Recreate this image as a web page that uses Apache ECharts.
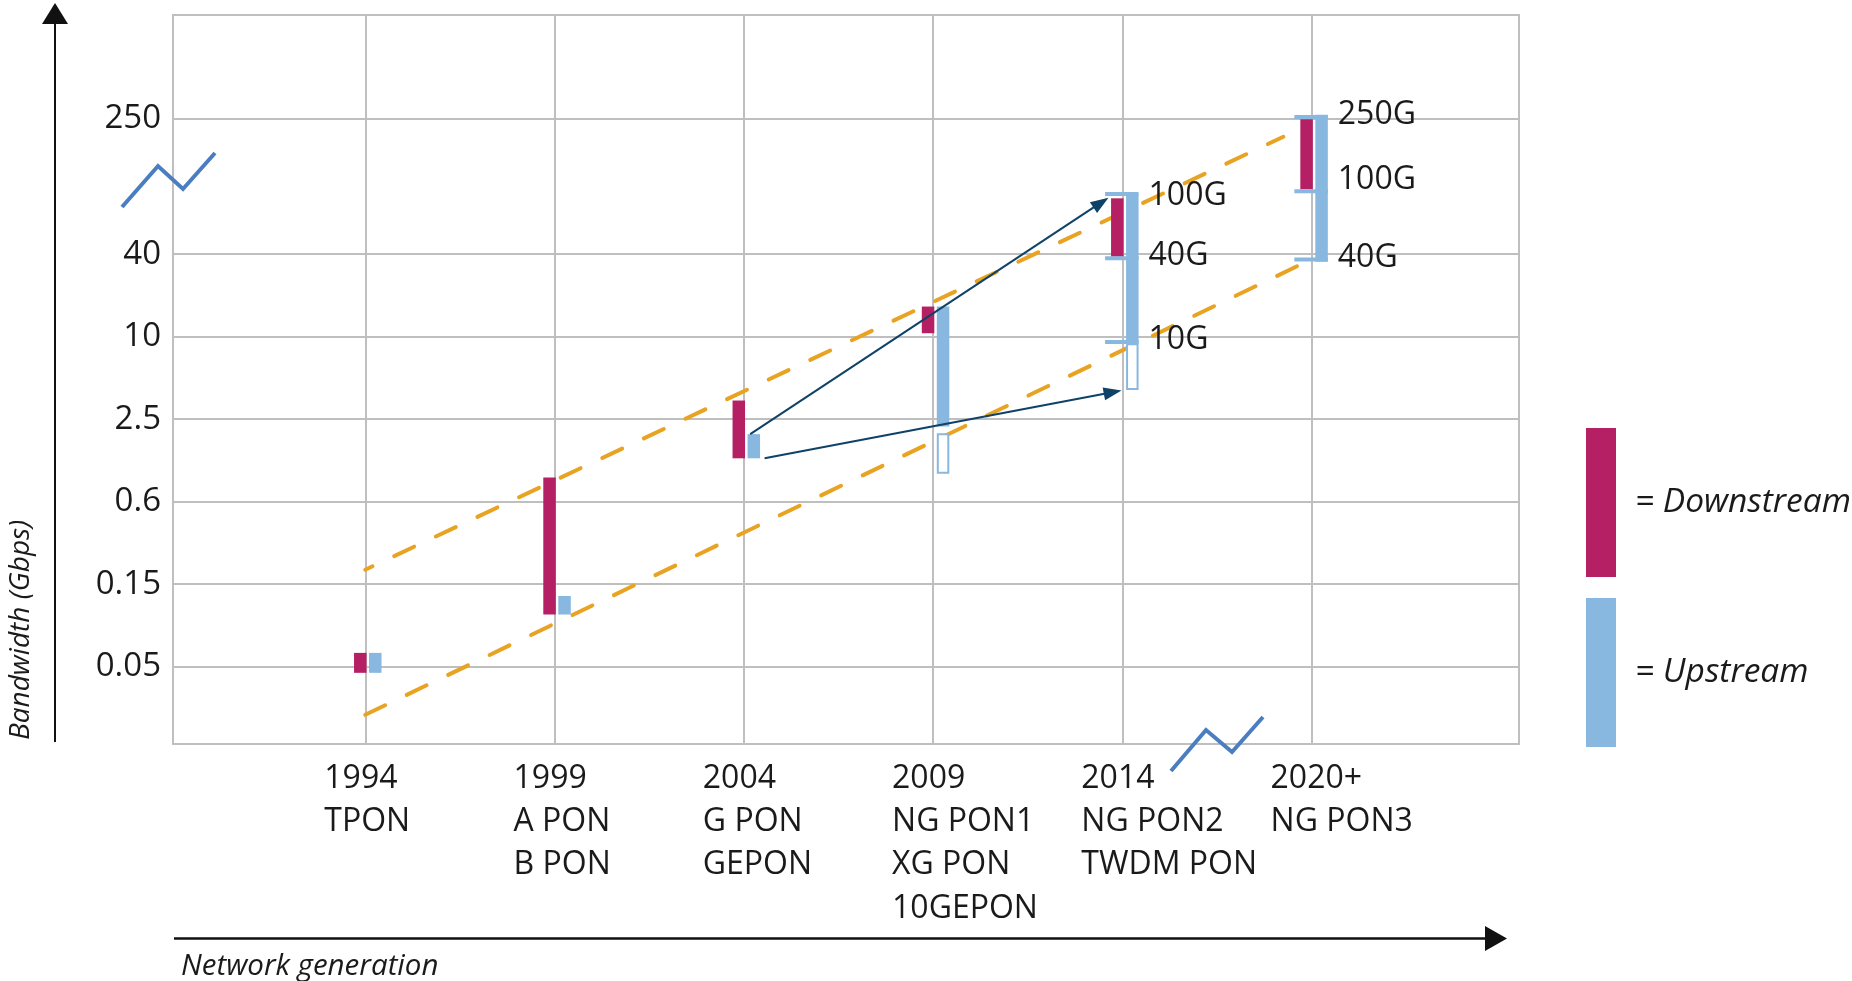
<!DOCTYPE html>
<html>
<head>
<meta charset="utf-8">
<script src="https://cdn.jsdelivr.net/npm/echarts@6/dist/echarts.min.js"></script>
<style>html,body{margin:0;padding:0;background:#fff}#c{width:1852px;height:981px}</style>
</head>
<body>
<div id="c"></div>
<script>
// ---------------- data ----------------
const categories = ['1994\nTPON', '1999\nA PON\nB PON', '2004\nG PON\nGEPON', '2009\nNG PON1\nXG PON\n10GEPON', '2014\nNG PON2\nTWDM PON', '2020+\nNG PON3'];
const yTickValues = [0.05, 0.15, 0.6, 2.5, 10, 40, 250];
const yTickLabels = ['0.05', '0.15', '0.6', '2.5', '10', '40', '250'];
// Gbps ranges
const downLow  = [0.046, 0.10, 1.27, 10.6, 38.4, 96];
const downHigh = [0.060, 0.91, 3.42, 16.6, 85, 247];
const upLow    = [0.046, 0.10, 1.27, 2.2, 8.96, 35.3];
const upHigh   = [0.060, 0.128, 1.93, 16.6, 89.8, 262];
// optional (outlined) upstream ranges
const upOptionCats = [3, 4];
const upOptionLow  = [0.97, 4.09];
const upOptionHigh = [1.96, 8.96];
// bracket caps with rate labels
const capCats        = [4, 4, 4, 5, 5, 5];
const capValues      = [90, 37.4, 9.16, 254.5, 93.5, 36.6];
const capLabels      = ['100G', '40G', '10G', '250G', '100G', '40G'];
const capLabelValues = [88, 38.8, 9.5, 262, 109, 37.4];
// dashed trend envelope (category position, Gbps)
const trendUpper = [[0, 0.191], [4.851, 195]];
const trendLower = [[0, 0.0263], [4.957, 34.4]];
// evolution arrows: [fromCat, fromGbps, toCat, toGbps]
const evolutionArrows = [[2.034, 1.93, 3.927, 85.8], [2.11, 1.27, 3.996, 4.04]];

// ---------------- layout / style ----------------
const FONT = '"Open Sans", "Noto Sans", sans-serif';
const MAGENTA = '#B51F64';
const BLUE = '#88B8E0';
const ORANGE = '#E9A323';
const NAVY = '#0E4267';
const ZIG = '#4A7EC0';
const GRIDC = '#BFBFBF';
const TEXTC = '#1a1a1a';
const yTickSlots = [0, 1, 2, 3, 4, 5, 6.648]; // schematic axis with break between 40 and 250
const BAR_W = 12.5, DOWN_OFF = -5, UP_OFF = 10;
const GRID = {left: 173, top: 15, right: 333, bottom: 237};
const X_MIN = -1.016, X_MAX = 6.096, Y_MIN = -0.939, Y_MAX = 7.901;
const pxPerCat = (1852 - GRID.left - GRID.right) / (X_MAX - X_MIN);
const labelShift = 41 / pxPerCat;

function toLevel(v) {
  const t = yTickValues, s = yTickSlots;
  let i = 0;
  if (v <= t[0]) i = 0;
  else if (v >= t[t.length - 1]) i = t.length - 2;
  else { while (v > t[i + 1]) i++; }
  return s[i] + (s[i + 1] - s[i]) * Math.log(v / t[i]) / Math.log(t[i + 1] / t[i]);
}

const downData = categories.map((c, i) => [i, toLevel(downLow[i]), toLevel(downHigh[i])]);
const upData = categories.map((c, i) => [i, toLevel(upLow[i]), toLevel(upHigh[i])]);
const upOptData = upOptionCats.map((c, k) => [c, toLevel(upOptionLow[k]), toLevel(upOptionHigh[k])]);
const capData = capCats.map((c, k) => [c, toLevel(capValues[k])]);
const capLabelData = capCats.map((c, k) => [c, toLevel(capLabelValues[k]), k]);
const arrowData = evolutionArrows.map(a => [a[0], toLevel(a[1]), a[2], toLevel(a[3])]);

function rangeBar(offset, hollow, color) {
  return function (params, api) {
    const x = api.value(0), lo = api.value(1), hi = api.value(2);
    const top = api.coord([x, hi]), bot = api.coord([x, lo]);
    const cx = top[0] + offset;
    if (hollow) {
      return {type: 'rect', shape: {x: cx - (BAR_W - 2) / 2, y: top[1] + 1, width: BAR_W - 2, height: bot[1] - top[1] - 2},
        style: {fill: '#fff', stroke: color, lineWidth: 2}};
    }
    return {type: 'rect', shape: {x: cx - BAR_W / 2, y: top[1], width: BAR_W, height: bot[1] - top[1]}, style: {fill: color}};
  };
}

const chart = echarts.init(document.getElementById('c'));
chart.setOption({
  animation: false,
  backgroundColor: '#fff',
  grid: {left: GRID.left, top: GRID.top, right: GRID.right, bottom: GRID.bottom, show: true, borderColor: GRIDC, borderWidth: 2},
  xAxis: {
    type: 'value', min: X_MIN, max: X_MAX,
    axisLine: {show: false},
    axisTick: {show: false, customValues: categories.map((c, i) => i)},
    splitLine: {show: true, lineStyle: {color: GRIDC, width: 2}},
    axisLabel: {
      customValues: categories.map((c, i) => i - labelShift),
      formatter: (v) => categories[Math.round(v + labelShift)],
      align: 'left', verticalAlign: 'top', margin: 13,
      fontFamily: FONT, fontSize: 32, lineHeight: 43.3, color: TEXTC
    }
  },
  yAxis: {
    type: 'value', min: Y_MIN, max: Y_MAX,
    axisLine: {show: false},
    axisTick: {show: false, customValues: yTickValues.map(toLevel)},
    splitLine: {show: true, lineStyle: {color: GRIDC, width: 2}},
    axisLabel: {
      customValues: yTickValues.map(toLevel),
      formatter: (v) => { const i = yTickValues.findIndex(t => Math.abs(toLevel(t) - v) < 1e-6); return i >= 0 ? yTickLabels[i] : ''; },
      margin: 12, fontFamily: FONT, fontSize: 33, color: TEXTC, padding: [4, 0, 0, 0]
    }
  },
  legend: {
    orient: 'vertical', left: 1586, top: 428, padding: 0, itemWidth: 30, itemHeight: 149, itemGap: 21,
    icon: 'rect', selectedMode: false, data: ['Downstream', 'Upstream'],
    formatter: (n) => '= ' + n,
    textStyle: {fontFamily: FONT, fontStyle: 'italic', fontSize: 33.5, color: TEXTC, padding: [0, 0, 0, 14]}
  },
  series: [
    {type: 'line', name: 'trend-upper', data: trendUpper.map(p => [p[0], toLevel(p[1])]), symbol: 'none', silent: true, z: 1,
      lineStyle: {color: ORANGE, width: 4, type: [22, 24], dashOffset: 14, cap: 'round'}},
    {type: 'line', name: 'trend-lower', data: trendLower.map(p => [p[0], toLevel(p[1])]), symbol: 'none', silent: true, z: 1,
      lineStyle: {color: ORANGE, width: 4, type: [22, 24], dashOffset: 0, cap: 'round'}},
    {type: 'custom', name: 'Downstream', data: downData, renderItem: rangeBar(DOWN_OFF, false, MAGENTA), itemStyle: {color: MAGENTA}, z: 3,
      encode: {x: 0, y: [1, 2]}},
    {type: 'custom', name: 'Upstream', data: upData, renderItem: rangeBar(UP_OFF, false, BLUE), itemStyle: {color: BLUE}, z: 3,
      encode: {x: 0, y: [1, 2]}},
    {type: 'custom', name: 'Upstream option', data: upOptData, renderItem: rangeBar(UP_OFF, true, BLUE), itemStyle: {color: BLUE}, z: 3,
      encode: {x: 0, y: [1, 2]}},
    {type: 'custom', name: 'caps', data: capData, z: 4, encode: {x: 0, y: 1},
      renderItem: function (params, api) {
        const p = api.coord([api.value(0), api.value(1)]);
        const x0 = p[0] + DOWN_OFF - BAR_W / 2 - 6, x1 = p[0] + UP_OFF + BAR_W / 2;
        return {type: 'rect', shape: {x: x0, y: p[1] - 2, width: x1 - x0, height: 4}, style: {fill: BLUE}};
      }},
    {type: 'custom', name: 'cap-labels', data: capLabelData, z: 5, encode: {x: 0, y: 1},
      renderItem: function (params, api) {
        const p = api.coord([api.value(0), api.value(1)]);
        return {type: 'text', x: p[0] + UP_OFF + BAR_W / 2 + 10, y: p[1],
          style: {text: capLabels[api.value(2)], font: '32px ' + FONT, fill: TEXTC, align: 'left', verticalAlign: 'middle'}};
      }},
    {type: 'custom', name: 'arrows', data: arrowData, z: 6, encode: {x: [0, 2], y: [1, 3]},
      renderItem: function (params, api) {
        const a = api.coord([api.value(0), api.value(1)]);
        const b = api.coord([api.value(2), api.value(3)]);
        const dx = b[0] - a[0], dy = b[1] - a[1], len = Math.hypot(dx, dy);
        const ux = dx / len, uy = dy / len, L = 18, W = 6.5;
        const base = [b[0] - ux * L, b[1] - uy * L];
        return {type: 'group', children: [
          {type: 'line', shape: {x1: a[0], y1: a[1], x2: base[0] + ux * 2, y2: base[1] + uy * 2}, style: {stroke: NAVY, lineWidth: 2}},
          {type: 'polygon', shape: {points: [b, [base[0] - uy * W, base[1] + ux * W], [base[0] + uy * W, base[1] - ux * W]]}, style: {fill: NAVY}}
        ]};
      }}
  ],
  graphic: [
    // vertical axis arrow
    {type: 'line', z: 100, shape: {x1: 55, y1: 742, x2: 55, y2: 20}, style: {stroke: '#111', lineWidth: 2}},
    {type: 'polygon', z: 100, shape: {points: [[55, 3], [42, 24], [68, 24]]}, style: {fill: '#111'}},
    // horizontal axis arrow
    {type: 'line', z: 100, shape: {x1: 174, y1: 938.5, x2: 1488, y2: 938.5}, style: {stroke: '#111', lineWidth: 2.5}},
    {type: 'polygon', z: 100, shape: {points: [[1507, 938.5], [1485, 926], [1485, 951]]}, style: {fill: '#111'}},
    // axis titles
    {type: 'text', z: 100, x: 21, y: 630, rotation: Math.PI / 2,
      style: {text: 'Bandwidth (Gbps)', font: 'italic 28px ' + FONT, fill: TEXTC, align: 'center', verticalAlign: 'middle'}},
    {type: 'text', z: 100, x: 181, y: 967,
      style: {text: 'Network generation', font: 'italic 29.5px ' + FONT, fill: TEXTC, align: 'left', verticalAlign: 'middle'}},
    // axis break marks
    {type: 'polyline', z: 100, shape: {points: [[122, 207], [158, 166], [183, 189], [215, 153]]}, style: {stroke: ZIG, lineWidth: 4, fill: null}},
    {type: 'polyline', z: 100, shape: {points: [[1171, 771], [1206, 730], [1232, 752], [1263, 717]]}, style: {stroke: ZIG, lineWidth: 4, fill: null}}
  ]
});
</script>
</body>
</html>
